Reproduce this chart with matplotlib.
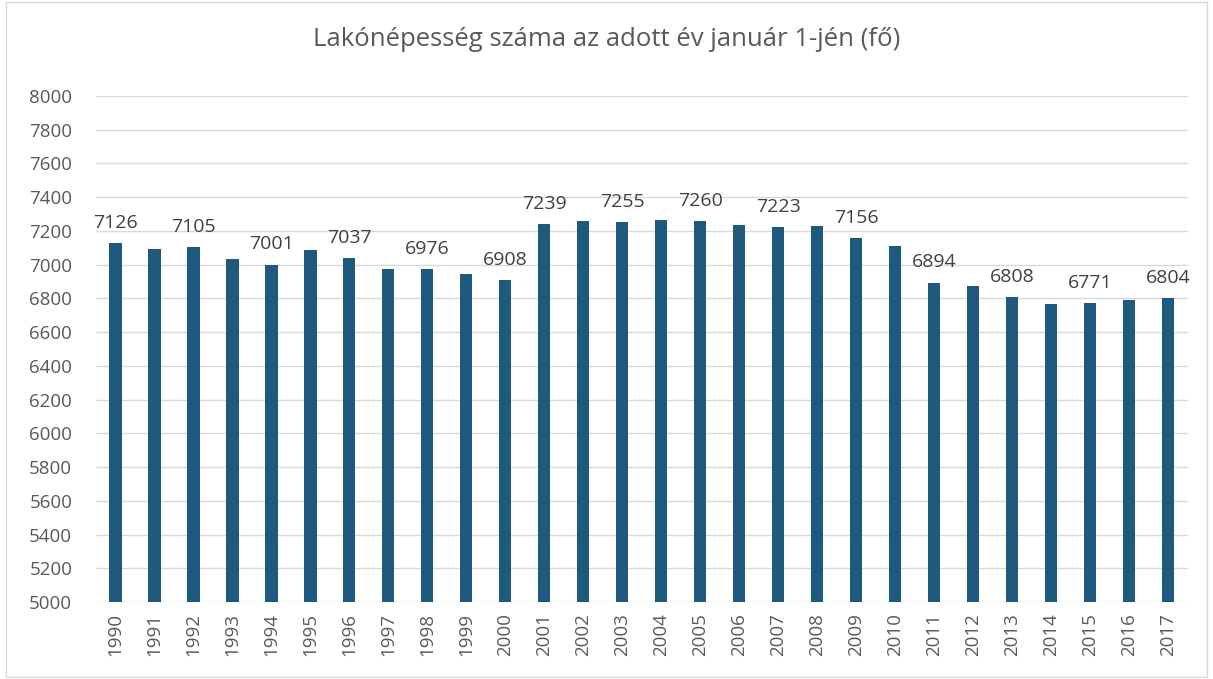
import matplotlib.pyplot as plt
import numpy as np

years = [str(y) for y in range(1990, 2018)]
population = [7126, 7092, 7105, 7034, 7001, 7086, 7037, 6972, 6976, 6942,
              6908, 7239, 7261, 7255, 7262, 7260, 7235, 7223, 7231, 7156,
              7108, 6894, 6872, 6808, 6768, 6771, 6792, 6804]
# years that carry a value label in the original
labelled = ["1990", "1992", "1994", "1996", "1998", "2000", "2001", "2003",
            "2005", "2007", "2009", "2011", "2013", "2015", "2017"]

plt.rcParams['font.family'] = ['Open Sans', 'DejaVu Sans']
text_color = '#595959'

fig = plt.figure(figsize=(12.13, 6.79), dpi=100)
ax = fig.add_axes([0.079, 0.1134, 0.9, 0.7452])

x = np.arange(len(years))
bars = ax.bar(x, population, width=0.32, color='#1f5a7e', zorder=3)

for i, (yr, val) in enumerate(zip(years, population)):
    if yr in labelled:
        ax.annotate(str(val), (i, val), xytext=(0, 8), textcoords='offset points',
                    ha='center', va='bottom', fontsize=14, color='#404040')

ax.set_xlim(-0.5, len(years) - 0.5)
ax.set_ylim(5000, 8000)
ax.set_yticks(np.arange(5000, 8001, 200))
ax.set_xticks(x)
ax.set_xticklabels(years, rotation=90, fontsize=13.5, color=text_color)
ax.tick_params(axis='y', labelsize=13.5, labelcolor=text_color, length=0, pad=17)
ax.tick_params(axis='x', length=0, pad=8)
ax.grid(axis='y', color='#d9d9d9', linewidth=1, zorder=0)
for s in ax.spines.values():
    s.set_visible(False)

fig.suptitle("Lakónépesség száma az adott év január 1-jén (fő)", y=0.96,
             fontsize=18.5, color=text_color)

# light frame around the whole chart
fig.patches.append(plt.Rectangle((0.005, 0.003), 0.99, 0.994, transform=fig.transFigure,
                                 fill=False, edgecolor='#d9d9d9', linewidth=1))

plt.savefig('out.png', dpi=100)
